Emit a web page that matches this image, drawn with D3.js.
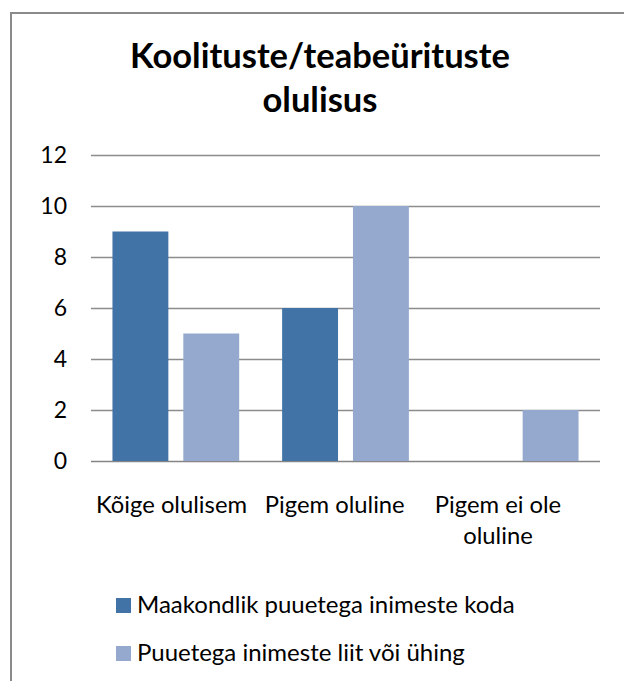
<!DOCTYPE html>
<meta charset="utf-8">
<style>
body {
  margin: 0;
  background: #fff;
  font-family: Lato, "Open Sans", sans-serif;
}
text {
  fill: #000;
}
</style>
<body>
<script src="https://cdn.jsdelivr.net/npm/d3@7"></script>
<script>

var width = 624,
    height = 681;

var titleLines = ["Koolituste/teabeürituste", "olulisus"];
var categories = ["Kõige olulisem", "Pigem oluline", "Pigem ei ole oluline"];
var categoryLines = [["Kõige olulisem"], ["Pigem oluline"], ["Pigem ei ole", "oluline"]];
var series = ["Maakondlik puuetega inimeste koda", "Puuetega inimeste liit või ühing"];
var koda = [9, 6, 0];
var liit = [5, 10, 2];
var yTicks = [0, 2, 4, 6, 8, 10, 12];
var colors = ["#4173a6", "#95a9cf"];

var data = categories.map(function(c, i) {
  return {cat: c, values: [koda[i], liit[i]]};
});

var svg = d3.select("body").append("svg")
    .attr("width", width)
    .attr("height", height);

// chart frame (runs off the right and bottom edge)
svg.append("path")
    .attr("d", "M" + (width + 5) + ",13H11V" + (height + 5))
    .style("fill", "none")
    .style("stroke", "#8a8a8a")
    .style("stroke-width", 2);

svg.selectAll(".title")
    .data(titleLines)
  .enter().append("text")
    .attr("class", "title")
    .attr("x", 320)
    .attr("y", function(d, i) { return 68 + i * 44; })
    .style("text-anchor", "middle")
    .style("font-size", "34.5px")
    .style("font-weight", "bold")
    .text(function(d) { return d; });

var x0 = d3.scaleBand()
    .domain(categories)
    .range([91, 600]);

var x1 = d3.scaleBand()
    .domain(series)
    .range([0, x0.bandwidth()])
    .paddingInner(0.211)
    .paddingOuter(0.303);

var y = d3.scaleLinear()
    .domain([0, 12])
    .range([461, 155]);

// label anchors sit a little left of the band centres, as in the original
var xLabel = d3.scalePoint()
    .domain(categories)
    .range([171.5, 498]);

svg.selectAll(".grid")
    .data(yTicks)
  .enter().append("line")
    .attr("class", "grid")
    .attr("x1", 91)
    .attr("x2", 600)
    .attr("y1", function(d) { return Math.round(y(d)) + 0.5; })
    .attr("y2", function(d) { return Math.round(y(d)) + 0.5; })
    .style("stroke", function(d) { return d == 0 ? "#858585" : "#8c8c8c"; })
    .style("stroke-width", 1.3);

svg.selectAll(".tick-label")
    .data(yTicks)
  .enter().append("text")
    .attr("class", "tick-label")
    .attr("x", 67)
    .attr("y", function(d) { return y(d); })
    .attr("dy", "0.36em")
    .style("text-anchor", "end")
    .style("font-size", "23px")
    .text(function(d) { return d; });

var groups = svg.selectAll(".group")
    .data(data)
  .enter().append("g")
    .attr("class", "group")
    .attr("transform", function(d) { return "translate(" + x0(d.cat) + ",0)"; });

groups.selectAll("rect")
    .data(function(d) { return d.values.map(function(v, i) { return {s: series[i], v: v, i: i}; }); })
  .enter().append("rect")
    .attr("x", function(d) { return x1(d.s); })
    .attr("y", function(d) { return y(d.v); })
    .attr("width", x1.bandwidth())
    .attr("height", function(d) { return y(0) - y(d.v); })
    .style("fill", function(d) { return colors[d.i]; })
    .style("stroke", "none");

svg.selectAll(".cat-label")
    .data(categories)
  .enter().append("text")
    .attr("class", "cat-label")
    .attr("x", function(d) { return xLabel(d); })
    .attr("y", 513)
    .style("text-anchor", "middle")
    .style("font-size", "23.8px")
  .selectAll("tspan")
    .data(function(d, i) { return categoryLines[i]; })
  .enter().append("tspan")
    .attr("x", function() { return xLabel(d3.select(this.parentNode).datum()); })
    .attr("dy", function(d, i) { return i == 0 ? 0 : 31; })
    .text(function(d) { return d; });

var legend = svg.selectAll(".legend")
    .data(series)
  .enter().append("g")
    .attr("class", "legend")
    .attr("transform", function(d, i) { return "translate(116," + (598 + i * 48) + ")"; });

legend.append("rect")
    .attr("width", 15)
    .attr("height", 15)
    .style("fill", function(d, i) { return colors[i]; });

legend.append("text")
    .attr("x", 21)
    .attr("y", 15)
    .style("font-size", "24px")
    .text(function(d) { return d; });

</script>
